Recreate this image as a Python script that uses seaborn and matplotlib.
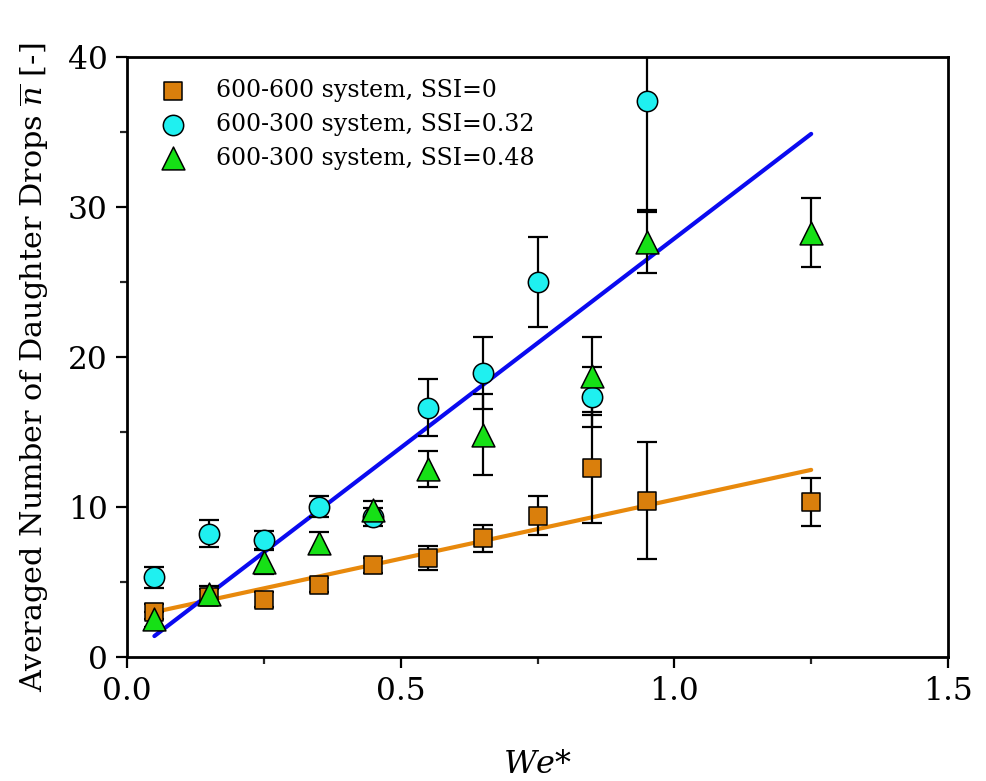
import matplotlib
matplotlib.use("Agg")
import matplotlib.pyplot as plt
from matplotlib.ticker import MultipleLocator
import numpy as np
import pandas as pd
import seaborn as sns

# 600-600 system, SSI = 0
we_sq = [0.05, 0.15, 0.25, 0.35, 0.45, 0.55, 0.65, 0.75, 0.85, 0.95, 1.25]
n_sq = [3.0, 4.0, 3.8, 4.8, 6.1, 6.6, 7.9, 9.4, 12.6, 10.4, 10.3]
err_sq = [0.5, 0.5, 0.5, 0.45, 0.5, 0.8, 0.9, 1.3, 3.7, 3.9, 1.6]

# 600-300 system, SSI = 0.32
we_ci = [0.05, 0.15, 0.25, 0.35, 0.45, 0.55, 0.65, 0.75, 0.85, 0.95]
n_ci = [5.3, 8.2, 7.8, 10.0, 9.3, 16.6, 18.9, 25.0, 17.3, 37.1]
err_ci = [0.7, 0.9, 0.6, 0.7, 0.6, 1.9, 2.4, 3.0, 2.0, 7.4]

# 600-300 system, SSI = 0.48
we_tr = [0.05, 0.15, 0.25, 0.35, 0.45, 0.55, 0.65, 0.85, 0.95, 1.25]
n_tr = [2.5, 4.2, 6.3, 7.6, 9.8, 12.5, 14.8, 18.7, 27.7, 28.3]
err_tr = [0.5, 0.5, 0.8, 0.7, 0.6, 1.2, 2.7, 2.6, 2.1, 2.3]

# linear trend lines (intercept, slope) over the measured We* range
fit_range = [0.05, 1.25]
fit_sq = (2.6, 7.9)
fit_ci = (0.0, 27.9)

labels = ["600-600 system, SSI=0", "600-300 system, SSI=0.32", "600-300 system, SSI=0.48"]
x_ticks = [0.0, 0.5, 1.0, 1.5]
y_ticks = [0, 10, 20, 30, 40]

sns.set_theme(style="ticks")
plt.rcParams["font.family"] = ["DejaVu Serif"]
plt.rcParams["mathtext.fontset"] = "dejavuserif"
plt.rcParams["text.color"] = "black"
plt.rcParams["axes.labelcolor"] = "black"

fig = plt.figure(figsize=(9.87, 7.81), dpi=100)
ax = fig.add_axes([0.1287, 0.1588, 0.8318, 0.7682])

fx = np.array(fit_range)
line_df = pd.DataFrame({
    "x": np.concatenate([fx, fx]),
    "y": np.concatenate([fit_sq[0] + fit_sq[1] * fx, fit_ci[0] + fit_ci[1] * fx]),
    "g": ["sq", "sq", "ci", "ci"],
})
sns.lineplot(data=line_df, x="x", y="y", hue="g", palette={"sq": "#E8890C", "ci": "#0A0AF0"},
             linewidth=3, legend=False, ax=ax, zorder=2)

for xs, ys, es in [(we_sq, n_sq, err_sq), (we_ci, n_ci, err_ci), (we_tr, n_tr, err_tr)]:
    ax.errorbar(xs, ys, yerr=es, fmt="none", ecolor="black", elinewidth=1.6,
                capsize=7, capthick=1.6, zorder=3)

sns.scatterplot(x=we_sq, y=n_sq, marker="s", s=180, color="#DA7F0C", edgecolor="black",
                linewidth=1.1, label=labels[0], ax=ax, zorder=4)
sns.scatterplot(x=we_ci, y=n_ci, marker="o", s=215, color="#1FF0F0", edgecolor="black",
                linewidth=1.1, label=labels[1], ax=ax, zorder=4)
sns.scatterplot(x=we_tr, y=n_tr, marker="^", s=270, color="#16E016", edgecolor="black",
                linewidth=1.1, label=labels[2], ax=ax, zorder=4)

ax.set_xlim(0, 1.5)
ax.set_ylim(0, 40)
ax.set_xticks(x_ticks)
ax.set_xticklabels([f"{v:.1f}" for v in x_ticks])
ax.set_yticks(y_ticks)
ax.xaxis.set_minor_locator(MultipleLocator(0.25))
ax.yaxis.set_minor_locator(MultipleLocator(5))
ax.tick_params(axis="both", which="major", direction="out", length=8, width=1.6,
               labelsize=22.5, colors="black", pad=6)
ax.tick_params(axis="both", which="minor", direction="out", length=5, width=1.6)
for sp in ax.spines.values():
    sp.set_linewidth(2)
    sp.set_color("black")

ax.set_xlabel("$We$*", fontsize=23, labelpad=30)
ax.set_ylabel(r"Averaged Number of Daughter Drops $\overline{n}$ [-]", fontsize=21.8)
ax.yaxis.set_label_coords(-0.092, 0.483)

ax.legend(loc="upper left", frameon=False, fontsize=17, handletextpad=0.8,
          borderaxespad=0.55, labelspacing=0.45)

fig.savefig("out.png", dpi=100)
